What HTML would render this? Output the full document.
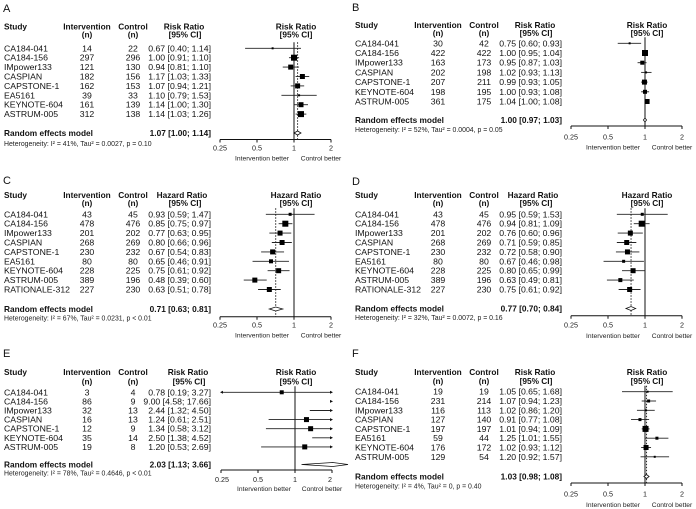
<!DOCTYPE html>
<html><head><meta charset="utf-8">
<style>
html,body{margin:0;padding:0;background:#fff;}
svg{display:block;font-family:"Liberation Sans",Arial,sans-serif;}
.t{font-size:8.7px;fill:#111;}
.b{font-size:8.3px;font-weight:bold;fill:#111;}
.h{font-size:6.9px;fill:#222;}
.k{font-size:7.2px;fill:#222;}
.q{font-size:6.7px;fill:#222;text-anchor:middle;}
.L{font-size:11px;fill:#111;}
.m{text-anchor:middle;}
.e{text-anchor:end;}
</style></head>
<body>
<svg id="s" width="696" height="509" viewBox="0 0 696 509" xmlns="http://www.w3.org/2000/svg">
<!-- Panel A -->
<g>
<text class="L" x="3" y="12">A</text>
<text class="b" x="4" y="29.5">Study</text><text class="b m" x="87" y="29.5">Intervention</text><text class="b m" x="133" y="29.5">Control</text><text class="b m" x="184" y="29.5">Risk Ratio</text><text class="b m" x="296" y="29.5">Risk Ratio</text>
<text class="b m" x="87" y="37.5">(n)</text><text class="b m" x="133" y="37.5">(n)</text><text class="b m" x="185" y="37.5">[95% CI]</text><text class="b m" x="296" y="37.5">[95% CI]</text>
<text class="t" x="4" y="51.3">CA184-041</text><text class="t m" x="87" y="51.3">14</text><text class="t m" x="133" y="51.3">22</text><text class="t e" x="211" y="51.3">0.67 [0.40; 1.14]</text>
<text class="t" x="4" y="60.7">CA184-156</text><text class="t m" x="87" y="60.7">297</text><text class="t m" x="133" y="60.7">296</text><text class="t e" x="211" y="60.7">1.00 [0.91; 1.10]</text>
<text class="t" x="4" y="70.1">IMpower133</text><text class="t m" x="87" y="70.1">121</text><text class="t m" x="133" y="70.1">130</text><text class="t e" x="211" y="70.1">0.94 [0.81; 1.10]</text>
<text class="t" x="4" y="79.5">CASPIAN</text><text class="t m" x="87" y="79.5">182</text><text class="t m" x="133" y="79.5">156</text><text class="t e" x="211" y="79.5">1.17 [1.03; 1.33]</text>
<text class="t" x="4" y="88.9">CAPSTONE-1</text><text class="t m" x="87" y="88.9">162</text><text class="t m" x="133" y="88.9">153</text><text class="t e" x="211" y="88.9">1.07 [0.94; 1.21]</text>
<text class="t" x="4" y="98.3">EA5161</text><text class="t m" x="87" y="98.3">39</text><text class="t m" x="133" y="98.3">33</text><text class="t e" x="211" y="98.3">1.10 [0.79; 1.53]</text>
<text class="t" x="4" y="107.7">KEYNOTE-604</text><text class="t m" x="87" y="107.7">161</text><text class="t m" x="133" y="107.7">139</text><text class="t e" x="211" y="107.7">1.14 [1.00; 1.30]</text>
<text class="t" x="4" y="117.1">ASTRUM-005</text><text class="t m" x="87" y="117.1">312</text><text class="t m" x="133" y="117.1">138</text><text class="t e" x="211" y="117.1">1.14 [1.03; 1.26]</text>
<text class="b" x="4" y="136">Random effects model</text><text class="b e" x="211" y="136">1.07 [1.00; 1.14]</text>
<text class="h" x="4" y="146">Heterogeneity: I² = 41%, Tau² = 0.0027, p = 0.10</text>
<text class="k m" x="220" y="150.5">0.25</text><text class="k m" x="257" y="150.5">0.5</text><text class="k m" x="294" y="150.5">1</text><text class="k m" x="331" y="150.5">2</text>
<text class="q" x="262" y="160.5">Intervention better</text><text class="q" x="321" y="160.5">Control better</text>
</g>
<!-- Panel B -->
<g transform="translate(351,0)">
<text class="L" x="1" y="11">B</text>
<text class="b" x="4" y="28">Study</text><text class="b m" x="87" y="28">Intervention</text><text class="b m" x="133" y="28">Control</text><text class="b m" x="184" y="28">Risk Ratio</text><text class="b m" x="296" y="28">Risk Ratio</text>
<text class="b m" x="87" y="36">(n)</text><text class="b m" x="133" y="36">(n)</text><text class="b m" x="185" y="36">[95% CI]</text><text class="b m" x="296" y="36">[95% CI]</text>
<text class="t" x="4" y="46.3">CA184-041</text><text class="t m" x="87" y="46.3">30</text><text class="t m" x="133" y="46.3">42</text><text class="t e" x="211" y="46.3">0.75 [0.60; 0.93]</text>
<text class="t" x="4" y="56">CA184-156</text><text class="t m" x="87" y="56">422</text><text class="t m" x="133" y="56">422</text><text class="t e" x="211" y="56">1.00 [0.95; 1.04]</text>
<text class="t" x="4" y="65.7">IMpower133</text><text class="t m" x="87" y="65.7">163</text><text class="t m" x="133" y="65.7">173</text><text class="t e" x="211" y="65.7">0.95 [0.87; 1.03]</text>
<text class="t" x="4" y="75.4">CASPIAN</text><text class="t m" x="87" y="75.4">202</text><text class="t m" x="133" y="75.4">198</text><text class="t e" x="211" y="75.4">1.02 [0.93; 1.13]</text>
<text class="t" x="4" y="85.1">CAPSTONE-1</text><text class="t m" x="87" y="85.1">207</text><text class="t m" x="133" y="85.1">211</text><text class="t e" x="211" y="85.1">0.99 [0.93; 1.05]</text>
<text class="t" x="4" y="94.8">KEYNOTE-604</text><text class="t m" x="87" y="94.8">198</text><text class="t m" x="133" y="94.8">195</text><text class="t e" x="211" y="94.8">1.00 [0.93; 1.08]</text>
<text class="t" x="4" y="104.5">ASTRUM-005</text><text class="t m" x="87" y="104.5">361</text><text class="t m" x="133" y="104.5">175</text><text class="t e" x="211" y="104.5">1.04 [1.00; 1.08]</text>
<text class="b" x="4" y="123">Random effects model</text><text class="b e" x="211" y="123">1.00 [0.97; 1.03]</text>
<text class="h" x="4" y="132">Heterogeneity: I² = 52%, Tau² = 0.0004, p = 0.05</text>
<text class="k m" x="220" y="139.5">0.25</text><text class="k m" x="257" y="139.5">0.5</text><text class="k m" x="294" y="139.5">1</text><text class="k m" x="331" y="139.5">2</text>
<text class="q" x="262" y="149.5">Intervention better</text><text class="q" x="321" y="149.5">Control better</text>
</g>
<!-- Panel C -->
<g>
<text class="L" x="3" y="184">C</text>
<text class="b" x="4" y="198">Study</text><text class="b m" x="87" y="198">Intervention</text><text class="b m" x="133" y="198">Control</text><text class="b m" x="182" y="198">Hazard Ratio</text><text class="b m" x="296" y="198">Hazard Ratio</text>
<text class="b m" x="87" y="206">(n)</text><text class="b m" x="133" y="206">(n)</text><text class="b m" x="185" y="206">[95% CI]</text><text class="b m" x="296" y="206">[95% CI]</text>
<text class="t" x="4" y="217.3">CA184-041</text><text class="t m" x="87" y="217.3">43</text><text class="t m" x="133" y="217.3">45</text><text class="t e" x="211" y="217.3">0.93 [0.59; 1.47]</text>
<text class="t" x="4" y="226.7">CA184-156</text><text class="t m" x="87" y="226.7">478</text><text class="t m" x="133" y="226.7">476</text><text class="t e" x="211" y="226.7">0.85 [0.75; 0.97]</text>
<text class="t" x="4" y="236.1">IMpower133</text><text class="t m" x="87" y="236.1">201</text><text class="t m" x="133" y="236.1">202</text><text class="t e" x="211" y="236.1">0.77 [0.63; 0.95]</text>
<text class="t" x="4" y="245.5">CASPIAN</text><text class="t m" x="87" y="245.5">268</text><text class="t m" x="133" y="245.5">269</text><text class="t e" x="211" y="245.5">0.80 [0.66; 0.96]</text>
<text class="t" x="4" y="254.9">CAPSTONE-1</text><text class="t m" x="87" y="254.9">230</text><text class="t m" x="133" y="254.9">232</text><text class="t e" x="211" y="254.9">0.67 [0.54; 0.83]</text>
<text class="t" x="4" y="264.3">EA5161</text><text class="t m" x="87" y="264.3">80</text><text class="t m" x="133" y="264.3">80</text><text class="t e" x="211" y="264.3">0.65 [0.46; 0.91]</text>
<text class="t" x="4" y="273.7">KEYNOTE-604</text><text class="t m" x="87" y="273.7">228</text><text class="t m" x="133" y="273.7">225</text><text class="t e" x="211" y="273.7">0.75 [0.61; 0.92]</text>
<text class="t" x="4" y="283.1">ASTRUM-005</text><text class="t m" x="87" y="283.1">389</text><text class="t m" x="133" y="283.1">196</text><text class="t e" x="211" y="283.1">0.48 [0.39; 0.60]</text>
<text class="t" x="4" y="292.5">RATIONALE-312</text><text class="t m" x="87" y="292.5">227</text><text class="t m" x="133" y="292.5">230</text><text class="t e" x="211" y="292.5">0.63 [0.51; 0.78]</text>
<text class="b" x="4" y="312">Random effects model</text><text class="b e" x="211" y="312">0.71 [0.63; 0.81]</text>
<text class="h" x="4" y="320.5">Heterogeneity: I² = 67%, Tau² = 0.0231, p &lt; 0.01</text>
<text class="k m" x="220" y="327.5">0.25</text><text class="k m" x="257" y="327.5">0.5</text><text class="k m" x="294" y="327.5">1</text><text class="k m" x="331" y="327.5">2</text>
<text class="q" x="262" y="337.5">Intervention better</text><text class="q" x="321" y="337.5">Control better</text>
</g>
<!-- Panel D -->
<g transform="translate(351,0)">
<text class="L" x="1" y="185">D</text>
<text class="b" x="4" y="198">Study</text><text class="b m" x="87" y="198">Intervention</text><text class="b m" x="133" y="198">Control</text><text class="b m" x="182" y="198">Hazard Ratio</text><text class="b m" x="296" y="198">Hazard Ratio</text>
<text class="b m" x="87" y="206">(n)</text><text class="b m" x="133" y="206">(n)</text><text class="b m" x="185" y="206">[95% CI]</text><text class="b m" x="296" y="206">[95% CI]</text>
<text class="t" x="4" y="217.3">CA184-041</text><text class="t m" x="87" y="217.3">43</text><text class="t m" x="133" y="217.3">45</text><text class="t e" x="211" y="217.3">0.95 [0.59; 1.53]</text>
<text class="t" x="4" y="226.7">CA184-156</text><text class="t m" x="87" y="226.7">478</text><text class="t m" x="133" y="226.7">476</text><text class="t e" x="211" y="226.7">0.94 [0.81; 1.09]</text>
<text class="t" x="4" y="236.1">IMpower133</text><text class="t m" x="87" y="236.1">201</text><text class="t m" x="133" y="236.1">202</text><text class="t e" x="211" y="236.1">0.76 [0.60; 0.96]</text>
<text class="t" x="4" y="245.5">CASPIAN</text><text class="t m" x="87" y="245.5">268</text><text class="t m" x="133" y="245.5">269</text><text class="t e" x="211" y="245.5">0.71 [0.59; 0.85]</text>
<text class="t" x="4" y="254.9">CAPSTONE-1</text><text class="t m" x="87" y="254.9">230</text><text class="t m" x="133" y="254.9">232</text><text class="t e" x="211" y="254.9">0.72 [0.58; 0.90]</text>
<text class="t" x="4" y="264.3">EA5161</text><text class="t m" x="87" y="264.3">80</text><text class="t m" x="133" y="264.3">80</text><text class="t e" x="211" y="264.3">0.67 [0.46; 0.98]</text>
<text class="t" x="4" y="273.7">KEYNOTE-604</text><text class="t m" x="87" y="273.7">228</text><text class="t m" x="133" y="273.7">225</text><text class="t e" x="211" y="273.7">0.80 [0.65; 0.99]</text>
<text class="t" x="4" y="283.1">ASTRUM-005</text><text class="t m" x="87" y="283.1">389</text><text class="t m" x="133" y="283.1">196</text><text class="t e" x="211" y="283.1">0.63 [0.49; 0.81]</text>
<text class="t" x="4" y="292.5">RATIONALE-312</text><text class="t m" x="87" y="292.5">227</text><text class="t m" x="133" y="292.5">230</text><text class="t e" x="211" y="292.5">0.75 [0.61; 0.92]</text>
<text class="b" x="4" y="311.5">Random effects model</text><text class="b e" x="211" y="311.5">0.77 [0.70; 0.84]</text>
<text class="h" x="4" y="320">Heterogeneity: I² = 32%, Tau² = 0.0072, p = 0.16</text>
<text class="k m" x="220" y="327.5">0.25</text><text class="k m" x="257" y="327.5">0.5</text><text class="k m" x="294" y="327.5">1</text><text class="k m" x="331" y="327.5">2</text>
<text class="q" x="262" y="338">Intervention better</text><text class="q" x="321" y="338">Control better</text>
</g>
<!-- Panel E -->
<g>
<text class="L" x="3" y="357">E</text>
<text class="b" x="4" y="375">Study</text><text class="b m" x="87" y="375">Intervention</text><text class="b m" x="133" y="375">Control</text><text class="b m" x="188" y="375">Risk Ratio</text><text class="b m" x="296" y="375">Risk Ratio</text>
<text class="b m" x="87" y="384.5">(n)</text><text class="b m" x="133" y="384.5">(n)</text><text class="b m" x="189" y="384.5">[95% CI]</text><text class="b m" x="296" y="384.5">[95% CI]</text>
<text class="t" x="4" y="395.3">CA184-041</text><text class="t m" x="87" y="395.3">3</text><text class="t m" x="133" y="395.3">4</text><text class="t e" x="211" y="395.3">0.78 [0.19;  3.27]</text>
<text class="t" x="4" y="404.4">CA184-156</text><text class="t m" x="87" y="404.4">86</text><text class="t m" x="133" y="404.4">9</text><text class="t e" x="211" y="404.4">9.00 [4.58; 17.66]</text>
<text class="t" x="4" y="413.5">IMpower133</text><text class="t m" x="87" y="413.5">32</text><text class="t m" x="133" y="413.5">13</text><text class="t e" x="211" y="413.5">2.44 [1.32;  4.50]</text>
<text class="t" x="4" y="422.6">CASPIAN</text><text class="t m" x="87" y="422.6">16</text><text class="t m" x="133" y="422.6">13</text><text class="t e" x="211" y="422.6">1.24 [0.61;  2.51]</text>
<text class="t" x="4" y="431.7">CAPSTONE-1</text><text class="t m" x="87" y="431.7">12</text><text class="t m" x="133" y="431.7">9</text><text class="t e" x="211" y="431.7">1.34 [0.58;  3.12]</text>
<text class="t" x="4" y="440.8">KEYNOTE-604</text><text class="t m" x="87" y="440.8">35</text><text class="t m" x="133" y="440.8">14</text><text class="t e" x="211" y="440.8">2.50 [1.38;  4.52]</text>
<text class="t" x="4" y="449.9">ASTRUM-005</text><text class="t m" x="87" y="449.9">19</text><text class="t m" x="133" y="449.9">8</text><text class="t e" x="211" y="449.9">1.20 [0.53;  2.69]</text>
<text class="b" x="4" y="467.5">Random effects model</text><text class="b e" x="211" y="467.5">2.03 [1.13;  3.66]</text>
<text class="h" x="4" y="475.5">Heterogeneity: I² = 78%, Tau² = 0.4646, p &lt; 0.01</text>
<text class="k m" x="222" y="482">0.25</text><text class="k m" x="258" y="482">0.5</text><text class="k m" x="295" y="482">1</text><text class="k m" x="330" y="482">2</text>
<text class="q" x="264" y="491">Intervention better</text><text class="q" x="322" y="491">Control better</text>
</g>
<!-- Panel F -->
<g transform="translate(351,0)">
<text class="L" x="1" y="357">F</text>
<text class="b" x="4" y="375">Study</text><text class="b m" x="87" y="375">Intervention</text><text class="b m" x="133" y="375">Control</text><text class="b m" x="184" y="375">Risk Ratio</text><text class="b m" x="296" y="375">Risk Ratio</text>
<text class="b m" x="87" y="384">(n)</text><text class="b m" x="133" y="384">(n)</text><text class="b m" x="185" y="384">[95% CI]</text><text class="b m" x="296" y="384">[95% CI]</text>
<text class="t" x="4" y="394.7">CA184-041</text><text class="t m" x="87" y="394.7">19</text><text class="t m" x="133" y="394.7">19</text><text class="t e" x="211" y="394.7">1.05 [0.65; 1.68]</text>
<text class="t" x="4" y="404">CA184-156</text><text class="t m" x="87" y="404">231</text><text class="t m" x="133" y="404">214</text><text class="t e" x="211" y="404">1.07 [0.94; 1.23]</text>
<text class="t" x="4" y="413.3">IMpower133</text><text class="t m" x="87" y="413.3">116</text><text class="t m" x="133" y="413.3">113</text><text class="t e" x="211" y="413.3">1.02 [0.86; 1.20]</text>
<text class="t" x="4" y="422.6">CASPIAN</text><text class="t m" x="87" y="422.6">127</text><text class="t m" x="133" y="422.6">140</text><text class="t e" x="211" y="422.6">0.91 [0.77; 1.08]</text>
<text class="t" x="4" y="431.9">CAPSTONE-1</text><text class="t m" x="87" y="431.9">197</text><text class="t m" x="133" y="431.9">197</text><text class="t e" x="211" y="431.9">1.01 [0.94; 1.09]</text>
<text class="t" x="4" y="441.2">EA5161</text><text class="t m" x="87" y="441.2">59</text><text class="t m" x="133" y="441.2">44</text><text class="t e" x="211" y="441.2">1.25 [1.01; 1.55]</text>
<text class="t" x="4" y="450.5">KEYNOTE-604</text><text class="t m" x="87" y="450.5">176</text><text class="t m" x="133" y="450.5">172</text><text class="t e" x="211" y="450.5">1.02 [0.93; 1.12]</text>
<text class="t" x="4" y="459.8">ASTRUM-005</text><text class="t m" x="87" y="459.8">129</text><text class="t m" x="133" y="459.8">54</text><text class="t e" x="211" y="459.8">1.20 [0.92; 1.57]</text>
<text class="b" x="4" y="479.5">Random effects model</text><text class="b e" x="211" y="479.5">1.03 [0.98; 1.08]</text>
<text class="h" x="4" y="488.5">Heterogeneity: I² = 4%, Tau² = 0, p = 0.40</text>
<text class="k m" x="220" y="496.5">0.25</text><text class="k m" x="257" y="496.5">0.5</text><text class="k m" x="294" y="496.5">1</text><text class="k m" x="331" y="496.5">2</text>
<text class="q" x="262" y="507">Intervention better</text><text class="q" x="321" y="507">Control better</text>
</g>
<g id="marks"></g>
</svg>
<script>
(function(){
var NS="http://www.w3.org/2000/svg",g=document.getElementById("marks");
function el(n,a){var e=document.createElementNS(NS,n);for(var k in a)e.setAttribute(k,a[k]);g.appendChild(e);return e;}
var P=[
 {x1:294,r0:48.3,dr:9.4,rand:133,ax:139.5,dot:1.07,s:[1.00,1.14],d:[[0.67,0.40,1.14,2],[1.00,0.91,1.10,6],[0.94,0.81,1.10,5],[1.17,1.03,1.33,5],[1.07,0.94,1.21,5],[1.10,0.79,1.53,2],[1.14,1.00,1.30,5],[1.14,1.03,1.26,6]],est:1.07},
 {x1:645,r0:43.3,dr:9.7,rand:120,ax:126,dot:null,s:[0.97,1.03],d:[[0.75,0.60,0.93,2],[1.00,0.95,1.04,6],[0.95,0.87,1.03,4],[1.02,0.93,1.13,2],[0.99,0.93,1.05,5],[1.00,0.93,1.08,4],[1.04,1.00,1.08,5]],est:1.00},
 {x1:294,r0:214.3,dr:9.4,rand:309,ax:316.7,dot:0.71,s:[0.63,0.81],d:[[0.93,0.59,1.47,3],[0.85,0.75,0.97,6],[0.77,0.63,0.95,5],[0.80,0.66,0.96,5],[0.67,0.54,0.83,5],[0.65,0.46,0.91,4],[0.75,0.61,0.92,5],[0.48,0.39,0.60,5],[0.63,0.51,0.78,5]],est:0.71},
 {x1:645,r0:214.3,dr:9.4,rand:308.5,ax:315.7,dot:0.77,s:[0.70,0.84],d:[[0.95,0.59,1.53,3],[0.94,0.81,1.09,6],[0.76,0.60,0.96,5],[0.71,0.59,0.85,5],[0.72,0.58,0.90,5],[0.67,0.46,0.98,3],[0.80,0.65,0.99,5],[0.63,0.49,0.81,4],[0.75,0.61,0.92,5]],est:0.77},
 {x1:295,r0:392.3,dr:9.1,rand:464.5,ax:470,dot:null,s:[1.13,3.66],d:[[0.78,0.19,3.27,4],[9.0,4.58,17.66,0],[2.44,1.32,4.50,0],[1.24,0.61,2.51,5],[1.34,0.58,3.12,5],[2.50,1.38,4.52,0],[1.20,0.53,2.69,5]],est:2.03},
 {x1:645,r0:391.7,dr:9.3,rand:476.5,ax:483,dot:1.03,s:[0.98,1.08],d:[[1.05,0.65,1.68,2],[1.07,0.94,1.23,3],[1.02,0.86,1.20,2],[0.91,0.77,1.08,3],[1.01,0.94,1.09,6],[1.25,1.01,1.55,3],[1.02,0.93,1.12,5],[1.20,0.92,1.57,2]],est:1.03}
];
P.forEach(function(p){
 var X=function(v){return p.x1+37*Math.log2(v);};
 var lo=X(0.25),hi=X(2),top=p.r0-6;
 el("line",{x1:lo,y1:p.ax,x2:hi,y2:p.ax,stroke:"#111","stroke-width":1});
 [0.25,0.5,1,2].forEach(function(t){el("line",{x1:X(t),y1:p.ax,x2:X(t),y2:p.ax+3,stroke:"#111","stroke-width":1});});
 el("line",{x1:X(1),y1:top,x2:X(1),y2:p.ax,stroke:"#111","stroke-width":1});
 if(p.dot) el("line",{x1:X(p.dot),y1:top,x2:X(p.dot),y2:p.ax,stroke:"#111","stroke-width":0.9,"stroke-dasharray":"1.5,1.5"});
 p.d.forEach(function(r,i){
  var y=p.r0+i*p.dr,a=X(r[1]),b=X(r[2]),la=false,ra=false;
  if(a<lo){a=lo;la=true;} if(b>hi){b=hi;ra=true;}
  if(a<b) el("line",{x1:a,y1:y,x2:b,y2:y,stroke:"#222","stroke-width":0.9});
  if(ra) el("polygon",{points:(hi+1)+","+y+" "+(hi-2)+","+(y-1.5)+" "+(hi-2)+","+(y+1.5),fill:"#111"});
  if(la) el("polygon",{points:(lo-1)+","+y+" "+(lo+2)+","+(y-1.5)+" "+(lo+2)+","+(y+1.5),fill:"#111"});
  if(r[3]>0){var c=X(r[0]);if(c>=lo&&c<=hi)el("rect",{x:c-r[3]/2,y:y-r[3]/2,width:r[3],height:r[3],fill:"#000"});}
 });
 var ya=p.rand,a=X(p.s[0]),b=Math.min(X(p.s[1]),p.x1>400?696:348),e=X(p.est);
 el("polygon",{points:a+","+ya+" "+e+","+(ya-2)+" "+b+","+ya+" "+e+","+(ya+2),fill:"#fff",stroke:"#111","stroke-width":0.8});
});
})();
</script>
</body></html>
